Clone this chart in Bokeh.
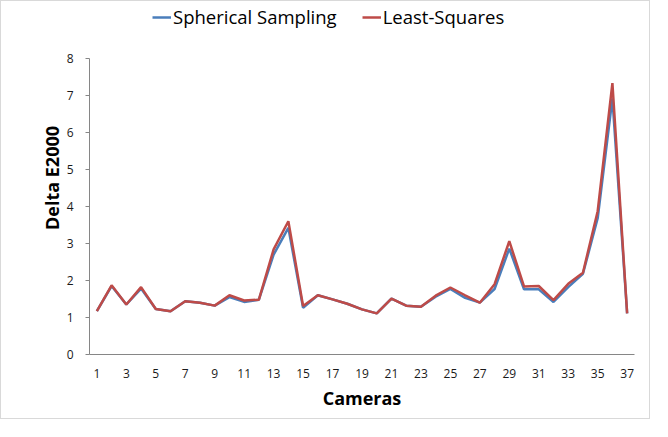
from bokeh.plotting import figure
from bokeh.models import Legend, LegendItem, FixedTicker, Range1d
from bokeh.embed import file_html
from bokeh.resources import INLINE

cameras = list(range(1, 38))
spherical = [1.17, 1.85, 1.35, 1.78, 1.23, 1.17, 1.44, 1.40, 1.32, 1.55,
             1.42, 1.48, 2.70, 3.42, 1.26, 1.60, 1.49, 1.37, 1.22, 1.11,
             1.51, 1.32, 1.29, 1.56, 1.77, 1.53, 1.40, 1.77, 2.86, 1.76,
             1.76, 1.42, 1.82, 2.18, 3.68, 6.92, 1.11]
least_squares = [1.17, 1.87, 1.35, 1.82, 1.23, 1.17, 1.44, 1.40, 1.32, 1.60,
                 1.46, 1.48, 2.84, 3.60, 1.31, 1.60, 1.49, 1.37, 1.22, 1.11,
                 1.51, 1.32, 1.29, 1.59, 1.81, 1.60, 1.40, 1.90, 3.06, 1.84,
                 1.85, 1.47, 1.91, 2.21, 3.87, 7.33, 1.11]
x_ticks = cameras[::2]
y_ticks = [0, 1, 2, 3, 4, 5, 6, 7, 8]
y_axis_max = 8
series_names = ["Spherical Sampling", "Least-Squares"]

FONT = "Open Sans"

# frame reaches the top of the canvas (room for the legend), axis stops at 8
p = figure(width=650, height=419, output_backend="svg", toolbar_location=None,
           x_range=Range1d(0.5, 37.5), y_range=Range1d(0, 9.535),
           min_border_left=88, min_border_right=17, min_border_top=0,
           min_border_bottom=66,
           styles={"border": "1px solid #d9d9d9"})
p.outline_line_color = None
p.grid.visible = False
p.background_fill_color = "white"
p.border_fill_color = "white"

r1 = p.line(cameras, spherical, line_color="#4a7ebb", line_width=2.5)
r2 = p.line(cameras, least_squares, line_color="#be4b48", line_width=2.5)

# x axis
xa = p.xaxis[0]
xa.ticker = FixedTicker(ticks=x_ticks)
xa.major_tick_line_color = None
xa.minor_tick_line_color = None
xa.major_tick_out = 0
xa.major_tick_in = 0
xa.axis_line_color = "#868686"
xa.major_label_standoff = 14
xa.major_label_text_font = FONT
xa.major_label_text_font_size = "12px"
xa.major_label_text_color = "#1a1a1a"
xa.axis_label = "Cameras"
xa.axis_label_text_font = FONT
xa.axis_label_text_font_style = "bold"
xa.axis_label_text_font_size = "18px"
xa.axis_label_text_color = "#000000"
xa.axis_label_standoff = 5

# y axis
ya = p.yaxis[0]
ya.ticker = FixedTicker(ticks=y_ticks)
ya.bounds = (0, y_axis_max)
ya.minor_tick_line_color = None
ya.major_tick_out = 4
ya.major_tick_in = 0
ya.major_tick_line_color = "#868686"
ya.axis_line_color = "#868686"
ya.major_label_standoff = 12
ya.major_label_text_font = FONT
ya.major_label_text_font_size = "12px"
ya.major_label_text_color = "#1a1a1a"
ya.axis_label = "Delta E2000"
ya.axis_label_text_font = FONT
ya.axis_label_text_font_style = "bold"
ya.axis_label_text_font_size = "18px"
ya.axis_label_text_color = "#000000"
ya.axis_label_standoff = 0

legend = Legend(items=[LegendItem(label=series_names[0], renderers=[r1]),
                       LegendItem(label=series_names[1], renderers=[r2])],
                orientation="horizontal", location=(63, 325),
                border_line_color=None, background_fill_alpha=0,
                padding=0, margin=0, spacing=25, label_standoff=2,
                glyph_width=19, glyph_height=22, label_height=22,
                label_text_font=FONT, label_text_font_size="18.5px",
                label_text_color="#000000")
p.add_layout(legend, "center")

open("out.html", "w").write(file_html(p, INLINE))
